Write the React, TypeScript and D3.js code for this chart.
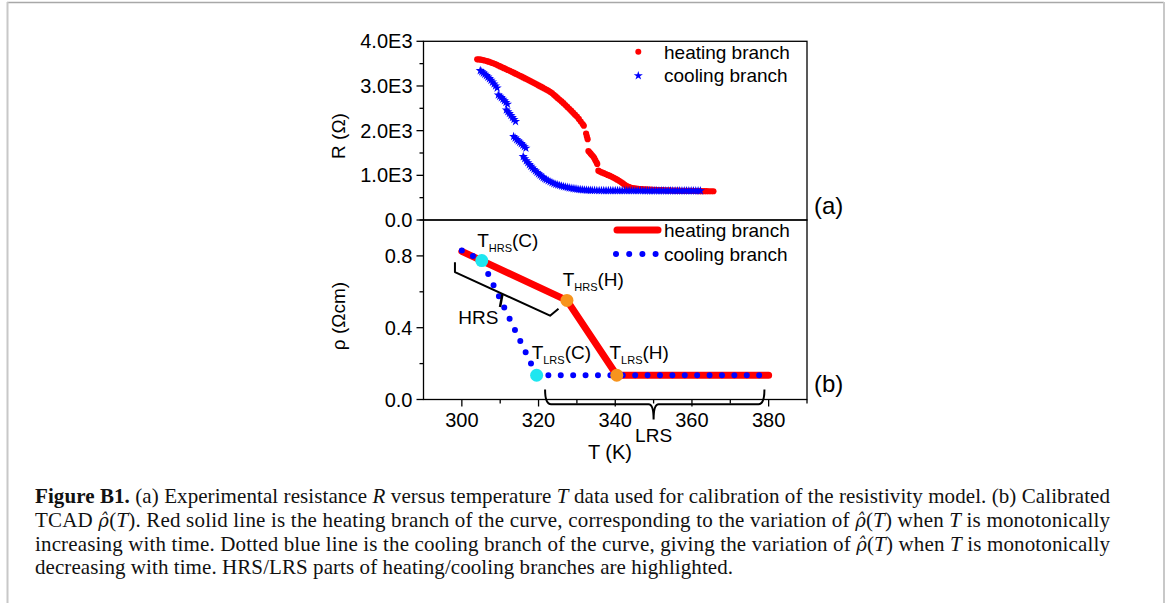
import React from "react";
import * as d3 from "d3";

// ---------- Panel (a): experimental R(T) ----------
const heatingT = [304.0,304.5,305.0,305.5,306.0,306.5,307.0,307.5,308.0,308.5,309.0,309.5,310.0,310.5,311.0,311.5,312.0,312.5,313.0,313.5,314.0,314.5,315.0,315.5,316.0,316.5,317.0,317.5,318.0,318.5,319.0,319.5,320.0,320.5,321.0,321.5,322.0,322.5,323.0,323.5,324.0,324.5,325.0,325.5,326.0,326.5,327.0,327.5,328.0,328.5,329.0,329.5,330.0,330.5,331.0,331.5,331.8,332.4,332.6,332.8,333.0,333.3,333.6,333.9,334.2,334.5,334.8,335.1,335.3,335.6,336.0,336.5,337.0,337.5,338.0,338.5,339.0,339.5,340.0,340.5,341.0,341.5,342.0,342.5,343.0,343.5,344.0,344.5,345.0,345.5,346.0,346.5,347.0,347.6,348.2,348.8,349.4,350.0,350.6,351.2,351.8,352.4,353.0,353.6,354.2,354.8,355.4,356.0,356.6,357.2,357.8,358.4,359.0,359.6,360.2,360.8,361.4,362.0,362.6,363.2,363.8,364.4,365.0,365.6];
const heatingR = [3597,3594,3588,3580,3570,3558,3545,3530,3514,3497,3478,3458,3438,3418,3398,3378,3358,3338,3318,3297,3276,3255,3234,3213,3192,3170,3148,3126,3104,3082,3059,3036,3013,2990,2967,2943,2920,2896,2870,2840,2802,2765,2728,2692,2655,2615,2572,2530,2488,2446,2402,2358,2315,2262,2205,2148,2110,1935,1870,1810,1545,1515,1485,1455,1425,1390,1340,1290,1255,1105,1085,1066,1048,1030,1010,992,972,950,928,903,876,848,818,788,760,740,726,716,708,702,697,693,690,687,684,681,678,676,674,672,670,668,666,664,662,660,658,657,656,655,654,653,652,651,650,649,648,647,646,645,645,644,644,643];

const coolingT = [304.8,305.2,305.6,306.0,306.4,306.8,307.2,307.6,308.0,308.4,308.8,309.2,309.5,309.9,310.3,310.7,311.1,311.5,311.9,311.6,312.0,312.4,312.8,313.2,313.6,314.0,313.5,313.9,314.3,314.7,315.1,315.5,315.9,316.3,316.7,316.0,316.4,316.8,317.2,317.6,318.0,318.4,318.8,319.2,319.6,320.0,320.4,320.8,321.2,321.6,322.0,322.5,323.0,323.5,324.0,324.5,325.0,325.5,326.0,326.5,327.0,327.5,328.0,328.5,329.0,329.5,330.0,330.5,331.0,331.5,332.0,332.5,333.0,333.5,334.0,334.6,335.2,335.8,336.4,337.0,337.6,338.2,338.8,339.4,340.0,340.6,341.2,341.8,342.4,343.0,343.6,344.2,344.8,345.4,346.0,346.6,347.2,347.8,348.4,349.0,349.6,350.2,350.8,351.4,352.0,352.6,353.2,353.8,354.4,355.0,355.6,356.2,356.8,357.4,358.0,358.6,359.2,359.8,360.4,361.0,361.6,362.2];
const coolingR = [3345,3318,3290,3262,3232,3200,3165,3128,3088,3045,3000,2955,2800,2770,2740,2705,2670,2632,2592,2465,2425,2385,2340,2295,2250,2205,1870,1835,1800,1770,1740,1710,1676,1642,1608,1420,1372,1326,1282,1240,1202,1166,1132,1098,1066,1035,1005,976,950,926,904,880,857,836,817,800,786,773,761,750,740,730,721,712,704,697,690,684,679,675,672,669,667,665,663,662,661,660,660,659,659,659,658,658,658,658,657,657,657,657,657,656,656,656,656,656,656,655,655,655,655,655,655,655,655,655,655,655,655,655,655,654,654,654,654,654,654,654,654,654,654,654];

const rTicks = [0, 1000, 2000, 3000, 4000];
const rTickLabels = ["0.0", "1.0E3", "2.0E3", "3.0E3", "4.0E3"];
const rMinorTicks = [500, 1500, 2500, 3500];

// ---------- Panel (b): calibrated rho(T) ----------
const rhoHeatT = [300, 327.4, 340.4, 380];
const rhoHeat = [0.825, 0.552, 0.135, 0.135];
const rhoCoolT = [300, 305.2, 319.5, 378.4];
const rhoCool = [0.83, 0.774, 0.135, 0.135];

const cyanT = [305.2, 319.5];
const cyanRho = [0.774, 0.135];
const orangeT = [327.4, 340.4];
const orangeRho = [0.552, 0.135];

const transitionSubs = ["HRS", "HRS", "LRS", "LRS"];
const transitionTails = ["(C)", "(H)", "(C)", "(H)"];
const transitionLabelT = [304.0, 326.3, 318.2, 338.5];
const transitionLabelRho = [0.85, 0.632, 0.224, 0.224];

const rhoTicks = [0, 0.4, 0.8];
const rhoTickLabels = ["0.0", "0.4", "0.8"];
const rhoMinorTicks = [0.2, 0.6, 1.0];

const xTicks = [300, 320, 340, 360, 380];
const xMinorTicks = [310, 330, 350, 370, 390];

const legendLabels = ["heating branch", "cooling branch"];

// bracket annotations (data units)
const hrsBracketT = [298.2, 298.2, 323.0, 325.2];
const hrsBracketRho = [0.765, 0.71, 0.467, 0.506];
const hrsSpikeT = [310.6, 309.95];
const hrsSpikeRho = [0.588, 0.515];
const lrsBracketT = [321.7, 350, 378.9];
const lrsBracketRho = [0.056, -0.026, -0.111];

// ---------- layout ----------
const W = 1167;
const H = 603;
const LEFT = 423.5;
const RIGHT = 807;
const TOP_A = 41.3;
const MID = 220;
const BOT_B = 399.5;

const SANS = "'Liberation Sans', Arial, sans-serif";
const SERIF = "'Liberation Serif', 'Times New Roman', serif";
const RED = "#ff0000";
const BLUE = "#0000ff";
const CYAN = "#1ee6f0";
const ORANGE = "#f7941d";

function RhoHat() {
  return (
    <tspan fontStyle="italic" fontFamily="'DejaVu Serif', serif" fontSize={18}>
      ρ̂
    </tspan>
  );
}

export default function App() {
  const x = d3.scaleLinear().domain([290, 390]).range([LEFT, RIGHT]);
  const yA = d3.scaleLinear().domain([0, 4000]).range([MID, TOP_A]);
  const yB = d3.scaleLinear().domain([0, 1]).range([BOT_B, MID]);

  const heatPts = heatingT.map((t, i) => [x(t), yA(heatingR[i])]);
  const coolPts = coolingT.map((t, i) => [x(t), yA(coolingR[i])]);
  const star = d3.symbol(d3.symbolStar, 26)() as string;

  const line = d3.line<number>();
  const heatPath = d3
    .line<number>()
    .x((t) => x(t))
    .y((_, i) => yB(rhoHeat[i]))(rhoHeatT) as string;
  const coolPath = d3
    .line<number>()
    .x((t) => x(t))
    .y((_, i) => yB(rhoCool[i]))(rhoCoolT) as string;

  const hrsBracket = d3
    .line<number>()
    .x((t) => x(t))
    .y((_, i) => yB(hrsBracketRho[i]))(hrsBracketT) as string;
  const hrsSpike = d3
    .line<number>()
    .x((t) => x(t))
    .y((_, i) => yB(hrsSpikeRho[i]))(hrsSpikeT) as string;

  const xL = x(lrsBracketT[0]);
  const xM = x(lrsBracketT[1]);
  const xR = x(lrsBracketT[2]);
  const yT = yB(lrsBracketRho[0]);
  const yH = yB(lrsBracketRho[1]);
  const yS = yB(lrsBracketRho[2]);
  const lrsPath = `M${xL},${yT} Q${xL},${yH} ${xL + 6},${yH} L${xM - 5},${yH} Q${xM},${yH} ${xM},${yS} Q${xM},${yH} ${xM + 5},${yH} L${xR - 6},${yH} Q${xR},${yH} ${xR},${yT}`;

  const tickFont = 20;
  const axisColor = "#000";

  return (
    <svg
      width={W}
      height={H}
      style={{ position: "fixed", left: 0, top: 0, background: "#fff" }}
      fontFamily={SANS}
    >
      <rect x={0} y={0} width={W} height={H} fill="#fff" />
      {/* page frame */}
      <line x1={7} y1={2.5} x2={1164} y2={2.5} stroke="#a8a8a8" strokeWidth={1.5} />
      <line x1={7.5} y1={2} x2={7.5} y2={H} stroke="#c8c8c8" strokeWidth={2} />
      <line x1={1164} y1={2} x2={1164} y2={H} stroke="#c8c8c8" strokeWidth={2} />

      {/* ---------- Panel (a) ---------- */}
      <g>
        {heatPts.map((p, i) => (
          <circle key={"h" + i} cx={p[0]} cy={p[1]} r={3.1} fill={RED} />
        ))}
        {coolPts.map((p, i) => (
          <path key={"c" + i} d={star} transform={`translate(${p[0]},${p[1]})`} fill={BLUE} />
        ))}
        {/* frame */}
        <rect x={LEFT} y={TOP_A} width={RIGHT - LEFT} height={MID - TOP_A} fill="none" stroke={axisColor} strokeWidth={1.3} />
        {rTicks.map((v, i) => (
          <g key={"rt" + i}>
            <line x1={LEFT - 7} x2={LEFT} y1={yA(v)} y2={yA(v)} stroke={axisColor} strokeWidth={1.3} />
            <text x={LEFT - 11} y={yA(v) + 7} fontSize={tickFont} textAnchor="end">
              {rTickLabels[i]}
            </text>
          </g>
        ))}
        {rMinorTicks.map((v, i) => (
          <line key={"rm" + i} x1={LEFT - 4} x2={LEFT} y1={yA(v)} y2={yA(v)} stroke={axisColor} strokeWidth={1.3} />
        ))}
        <text transform={`translate(345,136) rotate(-90)`} fontSize={19} textAnchor="middle">
          R (Ω)
        </text>
        {/* legend */}
        <circle cx={638.3} cy={51.7} r={3} fill={RED} />
        <path d={star} transform="translate(638.3,75.7)" fill={BLUE} />
        <text x={664} y={58.7} fontSize={19}>{legendLabels[0]}</text>
        <text x={664} y={81.5} fontSize={19}>{legendLabels[1]}</text>
        <text x={814} y={214} fontSize={24}>(a)</text>
      </g>

      {/* ---------- Panel (b) ---------- */}
      <g>
        <path d={heatPath} fill="none" stroke={RED} strokeWidth={7} strokeLinecap="round" strokeLinejoin="round" />
        <path d={coolPath} fill="none" stroke={BLUE} strokeWidth={6} strokeLinecap="round" strokeDasharray="0 12.4" />
        {cyanT.map((t, i) => (
          <circle key={"cy" + i} cx={x(t)} cy={yB(cyanRho[i])} r={6.5} fill={CYAN} />
        ))}
        {orangeT.map((t, i) => (
          <circle key={"or" + i} cx={x(t)} cy={yB(orangeRho[i])} r={6.5} fill={ORANGE} />
        ))}
        {transitionSubs.map((s, i) => (
          <text key={"tl" + i} x={x(transitionLabelT[i])} y={yB(transitionLabelRho[i])} fontSize={19}>
            T
            <tspan fontSize={11} dy={5}>{s}</tspan>
            <tspan dy={-5}>{transitionTails[i]}</tspan>
          </text>
        ))}
        {/* HRS bracket */}
        <path d={hrsBracket} fill="none" stroke="#000" strokeWidth={2} strokeLinejoin="round" />
        <path d={hrsSpike} fill="none" stroke="#000" strokeWidth={2.5} />
        <text x={x(304.3)} y={yB(0.419)} fontSize={19} textAnchor="middle">HRS</text>

        {/* frame */}
        <rect x={LEFT} y={MID} width={RIGHT - LEFT} height={BOT_B - MID} fill="none" stroke={axisColor} strokeWidth={1.3} />
        {rhoTicks.map((v, i) => (
          <g key={"pt" + i}>
            <line x1={LEFT - 7} x2={LEFT} y1={yB(v)} y2={yB(v)} stroke={axisColor} strokeWidth={1.3} />
            <text x={LEFT - 11} y={yB(v) + 7} fontSize={tickFont} textAnchor="end">
              {rhoTickLabels[i]}
            </text>
          </g>
        ))}
        {rhoMinorTicks.map((v, i) => (
          <line key={"pm" + i} x1={LEFT - 4} x2={LEFT} y1={yB(v)} y2={yB(v)} stroke={axisColor} strokeWidth={1.3} />
        ))}
        {xTicks.map((v, i) => (
          <g key={"xt" + i}>
            <line x1={x(v)} x2={x(v)} y1={BOT_B} y2={BOT_B + 7} stroke={axisColor} strokeWidth={1.3} />
            <text x={x(v)} y={426.7} fontSize={tickFont} textAnchor="middle">
              {v}
            </text>
          </g>
        ))}
        {xMinorTicks.map((v, i) => (
          <line key={"xm" + i} x1={x(v)} x2={x(v)} y1={BOT_B} y2={BOT_B + 4} stroke={axisColor} strokeWidth={1.3} />
        ))}
        {/* LRS bracket */}
        <path d={lrsPath} fill="none" stroke="#000" strokeWidth={2} />
        <text x={x(350)} y={442} fontSize={19} textAnchor="middle">LRS</text>

        <text x={610} y={458.5} fontSize={20} textAnchor="middle">T (K)</text>
        <text transform={`translate(345,316) rotate(-90)`} fontSize={19} textAnchor="middle">
          ρ (Ωcm)
        </text>
        {/* legend */}
        <path d={line([[617, 230], [658, 230]] as any) as string} stroke={RED} strokeWidth={7} strokeLinecap="round" />
        <path d={line([[616, 254], [656, 254]] as any) as string} stroke={BLUE} strokeWidth={6} strokeLinecap="round" strokeDasharray="0 13.2" />
        <text x={664} y={236.7} fontSize={19}>{legendLabels[0]}</text>
        <text x={664} y={260.5} fontSize={19}>{legendLabels[1]}</text>
        <text x={814} y={392} fontSize={24}>(b)</text>
      </g>

      {/* ---------- caption ---------- */}
      <g fontFamily={SERIF} fontSize={21} fill="#111">
        <text x={35} y={503.3} textLength={1075} lengthAdjust="spacing">
          <tspan fontWeight="bold">Figure B1.</tspan> (a) Experimental resistance <tspan fontStyle="italic">R</tspan> versus temperature <tspan fontStyle="italic">T</tspan> data used for calibration of the resistivity model. (b) Calibrated
        </text>
        <text x={35} y={526.8} textLength={1075} lengthAdjust="spacing">
          TCAD <RhoHat />(<tspan fontStyle="italic">T</tspan>). Red solid line is the heating branch of the curve, corresponding to the variation of <RhoHat />(<tspan fontStyle="italic">T</tspan>) when <tspan fontStyle="italic">T</tspan> is monotonically
        </text>
        <text x={35} y={550.5} textLength={1075} lengthAdjust="spacing">
          increasing with time. Dotted blue line is the cooling branch of the curve, giving the variation of <RhoHat />(<tspan fontStyle="italic">T</tspan>) when <tspan fontStyle="italic">T</tspan> is monotonically
        </text>
        <text x={35} y={574} textLength={698} lengthAdjust="spacing">
          decreasing with time. HRS/LRS parts of heating/cooling branches are highlighted.
        </text>
      </g>
    </svg>
  );
}
